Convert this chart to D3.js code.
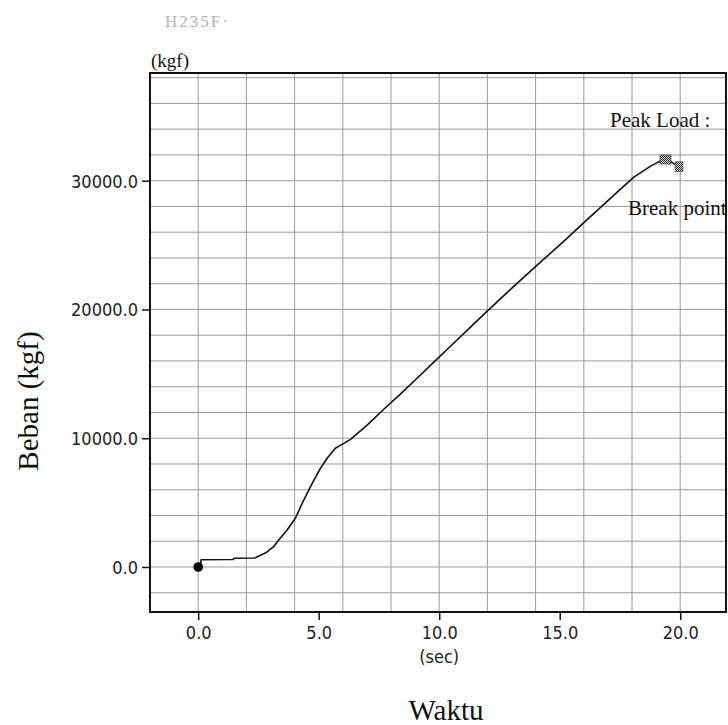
<!DOCTYPE html>
<html>
<head>
<meta charset="utf-8">
<script src="https://cdn.jsdelivr.net/npm/d3@7"></script>
<style>
  html, body { margin: 0; padding: 0; background: #fff; }
  svg { display: block; }
</style>
</head>
<body>
<svg id="chart" width="728" height="725"></svg>
<script>
// ---- data ----
const timeSec = [0.10, 0.12, 1.45, 1.50, 2.35, 2.80, 3.13, 3.34, 3.69, 4.03, 4.38, 4.73, 5.07, 5.35, 5.69, 6.04, 6.32, 7.01, 7.70, 8.40, 9.10, 9.80, 10.50, 11.20, 11.97, 13.07, 14.04, 15.29, 15.98, 16.74, 17.50, 18.09, 18.79, 19.20, 19.41, 19.60, 19.80, 19.95];
const loadKgf = [250, 560, 580, 680, 700, 1100, 1580, 2100, 2870, 3780, 5200, 6500, 7660, 8440, 9220, 9600, 9910, 11020, 12250, 13450, 14700, 15950, 17200, 18450, 19830, 21750, 23400, 25500, 26700, 28000, 29300, 30300, 31150, 31550, 31640, 31500, 31250, 31080];
const startPoint = [0, 0];
const peakPoint = [19.41, 31640];
const breakPoint = [19.95, 31080];
const xTicks = [0, 5, 10, 15, 20];
const yTicks = [0, 10000, 20000, 30000];
const xGrid = [0, 2, 4, 6, 8, 10, 12, 14, 16, 18, 20];
const yGrid = [-2000, 0, 2000, 4000, 6000, 8000, 10000, 12000, 14000, 16000, 18000, 20000, 22000, 24000, 26000, 28000, 30000, 32000, 34000, 36000, 38000];

const svg = d3.select("#chart");
const L = 150, R = 726, T = 73, B = 612;
const x = d3.scaleLinear().domain([-2, 21.9]).range([L, R]);
const y = d3.scaleLinear().domain([-3495, 38363]).range([B, T]);

// faint handwriting
svg.append("text").attr("x", 165).attr("y", 27)
  .attr("font-family", "Liberation Serif").attr("font-size", 17)
  .attr("fill", "#b5b5b5").attr("letter-spacing", 2).text("H235F·");

// grid
const grid = svg.append("g").attr("stroke", "#9a9a9a").attr("stroke-width", 1);
grid.selectAll("line.v").data(xGrid).join("line")
  .attr("x1", d => x(d)).attr("x2", d => x(d)).attr("y1", T).attr("y2", B);
grid.selectAll("line.h").data(yGrid).join("line")
  .attr("y1", d => y(d)).attr("y2", d => y(d)).attr("x1", L).attr("x2", R);

// frame
svg.append("rect").attr("x", L).attr("y", T).attr("width", R - L).attr("height", B - T)
  .attr("fill", "none").attr("stroke", "#111").attr("stroke-width", 2);

// axes
const tickFont = "'DejaVu Sans Condensed', 'DejaVu Sans', sans-serif";
const xAxis = svg.append("g").attr("transform", `translate(0,${B})`)
  .call(d3.axisBottom(x).tickValues(xTicks).tickFormat(d3.format(".1f")).tickSize(8).tickPadding(6));
const yAxis = svg.append("g").attr("transform", `translate(${L},0)`)
  .call(d3.axisLeft(y).tickValues(yTicks).tickFormat(d3.format(".1f")).tickSize(8).tickPadding(4));
[xAxis, yAxis].forEach(a => {
  a.select(".domain").remove();
  a.selectAll(".tick line").attr("stroke", "#111").attr("stroke-width", 1.5);
  a.selectAll(".tick text").attr("fill", "#222").attr("font-family", tickFont).attr("font-size", 18);
});
xAxis.selectAll(".tick text").attr("y", 27).attr("dy", 0);
yAxis.selectAll(".tick text").attr("dy", "0.36em");

svg.append("text").attr("x", x(10)).attr("y", 663).attr("text-anchor", "middle")
  .attr("font-family", tickFont).attr("font-size", 18).attr("fill", "#222").text("(sec)");

svg.append("text").attr("x", 151).attr("y", 67)
  .attr("font-family", "Liberation Serif").attr("font-size", 19).attr("fill", "#111").text("(kgf)");

// axis titles
svg.append("text").attr("x", 446).attr("y", 720).attr("text-anchor", "middle")
  .attr("font-family", "Liberation Serif").attr("font-size", 29).attr("fill", "#111").text("Waktu");
svg.append("text").attr("transform", "translate(38,401) rotate(-90)").attr("text-anchor", "middle")
  .attr("font-family", "Liberation Serif").attr("font-size", 29).attr("fill", "#111").text("Beban (kgf)");

// curve
const pts = timeSec.map((t, i) => [t, loadKgf[i]]);
svg.append("path").datum(pts)
  .attr("d", d3.line().x(d => x(d[0])).y(d => y(d[1])))
  .attr("fill", "none").attr("stroke", "#111").attr("stroke-width", 1.6).attr("stroke-linejoin", "round");

// checker pattern for markers
const defs = svg.append("defs");
const pat = defs.append("pattern").attr("id", "chk").attr("width", 2).attr("height", 2)
  .attr("patternUnits", "userSpaceOnUse");
pat.append("rect").attr("width", 2).attr("height", 2).attr("fill", "#ddd");
pat.append("rect").attr("width", 1).attr("height", 1).attr("fill", "#222");
pat.append("rect").attr("x", 1).attr("y", 1).attr("width", 1).attr("height", 1).attr("fill", "#222");

svg.append("rect").attr("x", x(peakPoint[0]) - 6).attr("y", y(peakPoint[1]) - 4.5)
  .attr("width", 11).attr("height", 9).attr("fill", "url(#chk)").attr("stroke", "#333").attr("stroke-width", 0.6);
svg.append("rect").attr("x", x(breakPoint[0]) - 4).attr("y", y(breakPoint[1]) - 5)
  .attr("width", 8).attr("height", 10).attr("fill", "url(#chk)").attr("stroke", "#555").attr("stroke-width", 0.6);

svg.append("circle").attr("cx", x(startPoint[0])).attr("cy", y(startPoint[1])).attr("r", 4.8).attr("fill", "#000");

// annotations
svg.append("text").attr("x", 610).attr("y", 127)
  .attr("font-family", "Liberation Serif").attr("font-size", 21).attr("fill", "#111").text("Peak Load :");
svg.append("text").attr("x", 628).attr("y", 215)
  .attr("font-family", "Liberation Serif").attr("font-size", 21).attr("fill", "#111").text("Break point");
</script>
</body>
</html>
